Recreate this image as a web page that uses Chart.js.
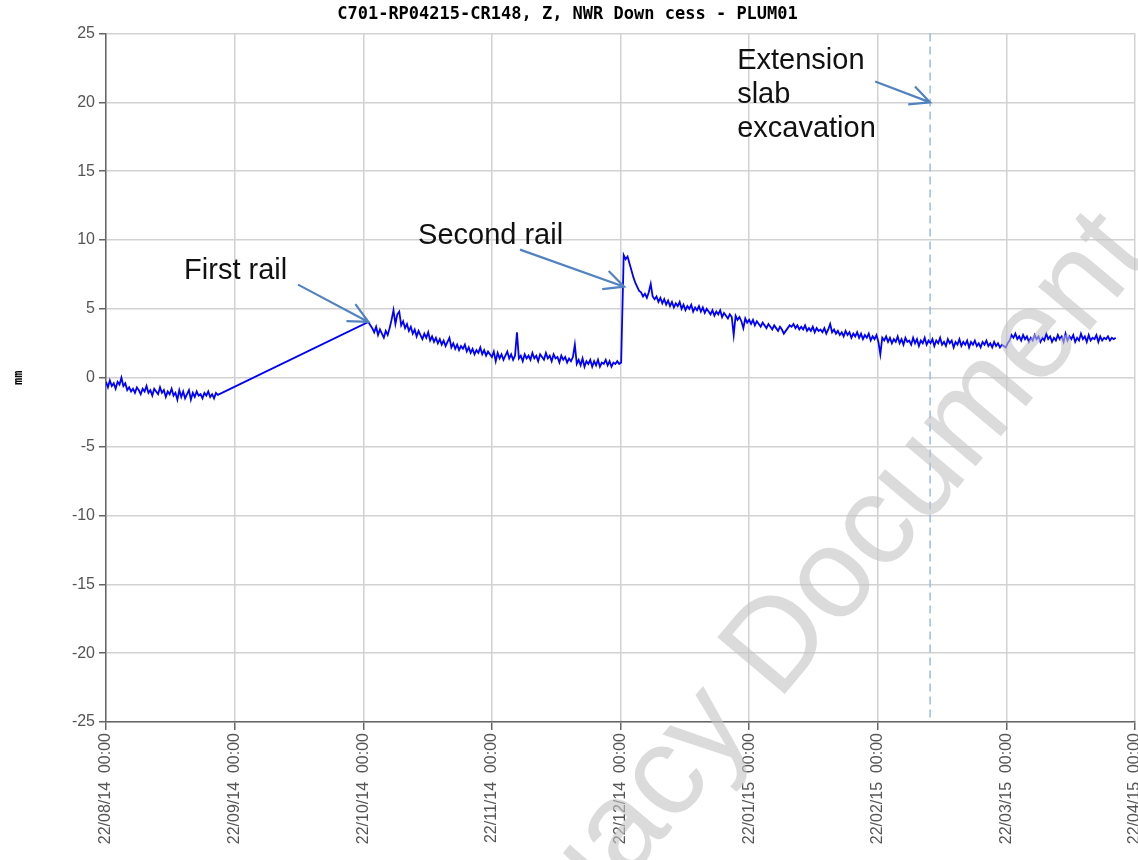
<!DOCTYPE html>
<html lang="en">
<head>
  <meta charset="UTF-8">
  <title>C701-RP04215-CR148, Z, NWR Down cess - PLUM01</title>
  <script src="https://cdn.jsdelivr.net/npm/chart.js"></script>
  <style>
    body { margin: 0; background: #ffffff; }
    #wrap { width: 1138px; height: 860px; position: relative; }
  </style>
</head>
<body>
  <div id="wrap"><canvas id="chart"></canvas></div>

  <script>
    // x axis is in months after 22/08/14, one gridline per month
    const xTickLabels = [
      "22/08/14  00:00", "22/09/14  00:00", "22/10/14  00:00", "22/11/14  00:00",
      "22/12/14  00:00", "22/01/15  00:00", "22/02/15  00:00", "22/03/15  00:00",
      "22/04/15  00:00"
    ];
    const yTicks = [-25, -20, -15, -10, -5, 0, 5, 10, 15, 20, 25];

    // logger readings (mm), one every sampleStep months within each block
    const sampleStep = 0.015;
    const blockStarts = [0, 2.04, 4.025];

    const blockBefore = [
      -0.3, -0.7, -0.2, -0.6, -0.4, -0.8, -0.3, -0.5, 0.0, -0.6,
      -0.4, -0.9, -0.7, -1.0, -0.8, -1.1, -0.7, -0.9, -1.2, -0.8,
      -1.0, -0.6, -1.1, -0.9, -1.3, -0.8, -1.0, -1.2, -0.7, -1.1,
      -0.9, -1.4, -1.0, -1.2, -0.8, -1.3, -1.1, -1.6, -0.9, -1.4,
      -1.0, -1.5, -1.2, -0.9, -1.6, -1.1, -1.4, -1.0, -1.3, -1.2,
      -1.5, -1.1, -1.3, -1.0, -1.4, -1.2, -1.5, -1.1, -1.25
    ];
    const blockFirstRail = [
      4.05, 3.8, 3.6, 3.3, 3.7, 3.1, 3.5, 3.2, 2.9, 3.4,
      3.1, 3.6, 4.2, 4.9, 3.9, 4.6, 4.8, 3.8, 4.1, 3.6,
      3.9, 3.4, 3.7, 3.2, 3.5, 3.0, 3.4, 3.1, 2.8, 3.2,
      2.9, 3.3, 2.7, 3.0, 2.6, 2.9, 2.5, 2.8, 2.4, 2.7,
      2.3, 2.6, 2.9, 2.2, 2.5, 2.1, 2.4, 2.0, 2.3, 2.1,
      2.4, 1.9, 2.2, 1.8, 2.1, 1.7, 2.0, 1.8, 2.2, 1.7,
      2.0, 1.6, 1.9, 1.7, 1.5, 1.9, 1.2, 1.8, 1.4, 1.7,
      1.3, 1.6, 1.9, 1.4, 1.7, 1.3, 1.6, 3.3, 1.4, 1.6,
      1.2, 1.7, 1.4, 1.6, 1.3, 1.8, 1.4, 1.6, 1.2, 1.7,
      1.5, 1.3, 1.8, 1.4, 1.6, 1.2, 1.7, 1.4, 1.5, 1.1,
      1.6, 1.3, 1.5, 1.1, 1.4, 1.2, 1.5, 2.4, 1.0, 1.3,
      0.9, 1.4, 0.8, 1.2, 1.0, 1.3, 0.8, 1.2, 0.9, 1.3,
      0.8, 1.1, 1.0, 1.3, 0.9, 1.2, 0.8, 1.1, 1.0, 1.2,
      1.0, 1.1
    ];
    const blockSecondRail = [
      8.9, 8.6, 8.8, 8.3, 7.8, 7.3, 6.9, 6.6, 6.3, 6.2,
      5.9, 6.1, 5.8, 6.2, 6.8, 5.9, 5.7, 5.9, 5.5, 5.8,
      5.4, 5.7, 5.3, 5.6, 5.2, 5.5, 5.1, 5.4, 5.2, 5.5,
      5.0, 5.3, 4.9, 5.2, 5.0, 5.3, 4.8, 5.1, 4.9, 5.2,
      4.8, 5.1, 4.7, 5.0, 4.8, 4.6, 4.9, 4.5, 4.8, 4.6,
      4.9, 4.4, 4.7, 4.5, 4.3, 4.6, 4.4, 3.1, 4.5, 4.2,
      4.4, 4.1, 3.6, 4.3, 4.0, 4.2, 3.9, 4.2, 3.8, 4.1,
      3.9, 3.7, 4.0, 3.8, 3.6, 3.9, 3.7, 3.5, 3.8, 3.6,
      3.4, 3.7, 3.5, 3.2, 3.4, 3.6, 3.8, 3.7, 3.9, 3.6,
      3.8, 3.5, 3.7, 3.5, 3.8, 3.4, 3.6, 3.4, 3.7, 3.3,
      3.6, 3.4, 3.5, 3.3, 3.6, 3.2, 3.5, 3.9, 3.3, 3.5,
      3.2, 3.4, 3.1, 3.3, 3.0, 3.4, 3.1, 3.3, 2.9, 3.2,
      3.0, 3.3, 2.9, 3.2, 2.8, 3.1, 2.9, 3.2, 2.7, 3.0,
      2.8, 3.1, 2.6, 1.7, 2.9, 2.7, 3.0, 2.6, 2.9, 2.5,
      2.8, 2.6, 3.0, 2.5, 2.8, 2.4, 2.9, 2.6, 2.7, 2.4,
      2.9, 2.5, 2.8, 2.3, 2.7, 2.5, 2.9, 2.4, 2.7, 2.5,
      2.8, 2.3, 2.7, 2.5, 2.9, 2.4, 2.6, 2.3, 2.8, 2.5,
      2.7, 2.2, 2.6, 2.4, 2.8, 2.3, 2.6, 2.4, 2.7, 2.2,
      2.6, 2.4, 2.7, 2.3, 2.5, 2.2, 2.6, 2.4, 2.7, 2.3,
      2.5, 2.2, 2.6, 2.3, 2.5, 2.2, 2.4, 2.3, 2.2, 2.5,
      2.7, 3.1, 2.9, 3.2, 2.8, 3.0, 2.7, 3.1, 2.8, 3.0,
      2.6, 2.9, 2.7, 3.1, 2.8, 3.0, 2.6, 2.9, 2.7, 3.2,
      2.8, 3.0, 2.6, 2.9, 2.7, 3.1, 2.8, 3.0, 2.6, 3.2,
      2.7, 3.0, 2.8, 3.1, 2.6, 2.9, 2.7, 3.2, 2.8, 3.0,
      2.6, 3.1, 2.7, 2.9, 2.8, 3.1, 2.6, 3.0, 2.7, 2.9,
      2.8, 3.0, 2.7, 2.9, 2.8, 2.9
    ];

    const excavationMonth = 6.407;

    // callouts, anchored in (month, mm)
    const callouts = [
      { lines: ["First rail"], text: [0.607, 7.78], from: [1.493, 6.76], to: [2.04, 4.05] },
      { lines: ["Second rail"], text: [2.426, 10.32], from: [3.219, 9.3], to: [4.028, 6.61] },
      { lines: ["Extension", "slab", "excavation"], text: [4.907, 22.97], from: [5.98, 21.51], to: [6.407, 19.99] }
    ];

    const blocks = [blockBefore, blockFirstRail, blockSecondRail];
    const points = blocks.flatMap((vals, k) =>
      vals.map((v, i) => ({ x: blockStarts[k] + i * sampleStep, y: v })));

    const eventLine = {
      id: "eventLine",
      beforeDatasetsDraw(chart) {
        const { ctx, chartArea, scales } = chart;
        const x = scales.x.getPixelForValue(excavationMonth);
        ctx.save();
        ctx.strokeStyle = "#9dbbe2";
        ctx.lineWidth = 1.5;
        ctx.setLineDash([8, 5]);
        ctx.beginPath();
        ctx.moveTo(x, chartArea.top);
        ctx.lineTo(x, chartArea.bottom);
        ctx.stroke();
        ctx.restore();
      }
    };

    const calloutPlugin = {
      id: "callouts",
      afterDatasetsDraw(chart) {
        const { ctx, scales } = chart;
        const px = p => [scales.x.getPixelForValue(p[0]), scales.y.getPixelForValue(p[1])];
        ctx.save();
        callouts.forEach(c => {
          const [tx, ty] = px(c.text);
          ctx.fillStyle = "#111";
          ctx.font = '29px "Liberation Sans", Arial, sans-serif';
          ctx.textBaseline = "middle";
          c.lines.forEach((line, i) => ctx.fillText(line, tx, ty + i * 34));

          const [x0, y0] = px(c.from);
          const [x1, y1] = px(c.to);
          const ang = Math.atan2(y1 - y0, x1 - x0);
          ctx.strokeStyle = "#5283c0";
          ctx.lineWidth = 2.2;
          ctx.beginPath();
          ctx.moveTo(x0, y0);
          ctx.lineTo(x1, y1);
          ctx.moveTo(x1 - 22 * Math.cos(ang - 0.45), y1 - 22 * Math.sin(ang - 0.45));
          ctx.lineTo(x1, y1);
          ctx.lineTo(x1 - 22 * Math.cos(ang + 0.45), y1 - 22 * Math.sin(ang + 0.45));
          ctx.stroke();
        });
        ctx.restore();
      }
    };

    // grey stamp laid over the finished chart
    const stamp = {
      id: "stamp",
      afterDraw(chart) {
        const { ctx } = chart;
        ctx.save();
        ctx.font = '128px "Liberation Sans", Arial, sans-serif';
        ctx.fillStyle = "rgba(195, 195, 195, 0.6)";
        ctx.textBaseline = "alphabetic";
        const lead = ctx.measureText("Legacy ").width;
        ctx.translate(778, 702);
        ctx.rotate(-50 * Math.PI / 180);
        ctx.fillText("Legacy Document", -lead, 0);
        ctx.restore();
      }
    };

    const tickFont = { family: '"Liberation Sans", Arial, sans-serif', size: 16 };

    new Chart(document.getElementById("chart"), {
      type: "line",
      data: {
        datasets: [{
          label: "Z",
          data: points,
          borderColor: "#0000ff",
          borderWidth: 1.8,
          pointRadius: 0,
          tension: 0,
          fill: false
        }]
      },
      options: {
        responsive: true,
        maintainAspectRatio: false,
        animation: false,
        layout: { padding: { top: 0, right: 3, bottom: 0, left: 0 } },
        plugins: {
          legend: { display: false },
          tooltip: { enabled: false },
          title: {
            display: true,
            text: "C701-RP04215-CR148, Z, NWR Down cess - PLUM01",
            color: "#000",
            font: { family: '"DejaVu Sans Mono", monospace', size: 17, weight: "bold" },
            padding: { top: 4, bottom: 9 }
          }
        },
        scales: {
          x: {
            type: "linear",
            min: 0,
            max: xTickLabels.length - 1,
            afterFit(scale) {
              scale.height = 138;
              scale.paddingLeft = 0;
              scale.paddingRight = 0;
            },
            ticks: {
              stepSize: 1,
              autoSkip: false,
              minRotation: 90,
              maxRotation: 90,
              color: "#555",
              font: tickFont,
              callback: v => xTickLabels[Math.round(v)]
            },
            grid: { color: "#d2d2d2", lineWidth: 1.5, tickColor: "#666", tickLength: 8 },
            border: { color: "#666", width: 1.5 }
          },
          y: {
            min: yTicks[0],
            max: yTicks[yTicks.length - 1],
            afterFit(scale) { scale.width = 106; },
            afterBuildTicks(scale) { scale.ticks = yTicks.map(v => ({ value: v })); },
            ticks: { color: "#555", font: tickFont, padding: 4 },
            grid: { color: "#d2d2d2", lineWidth: 1.5, tickColor: "#666", tickLength: 7 },
            border: { color: "#666", width: 1.5 },
            title: {
              display: true,
              text: "mm",
              color: "#000",
              font: { family: '"DejaVu Sans Mono", monospace', size: 12, weight: "bold" },
              padding: { top: 12, bottom: 0 }
            }
          }
        }
      },
      plugins: [eventLine, calloutPlugin, stamp]
    });
  </script>
</body>
</html>
